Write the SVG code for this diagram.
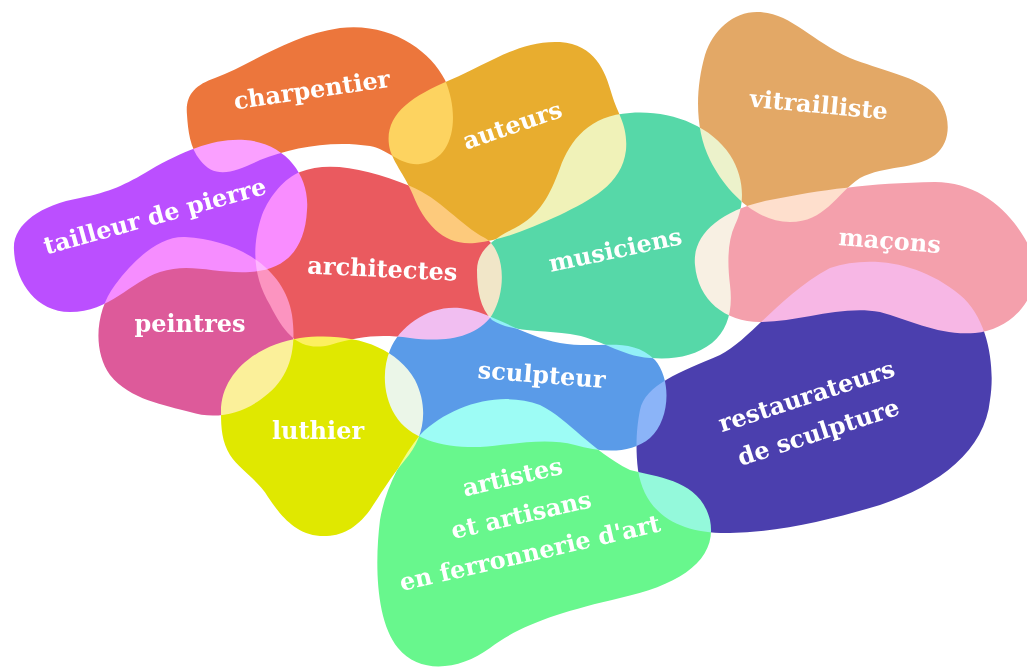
<svg xmlns="http://www.w3.org/2000/svg" width="1027" height="672" viewBox="0 0 1027 672">
<style>
.blobs{isolation:isolate}
.b{mix-blend-mode:screen}
.t{font-family:"DejaVu Serif","Liberation Serif",serif;font-weight:bold;font-size:24px;fill:#fff;text-anchor:middle}
</style>
<rect width="1027" height="672" fill="#fff"/>
<g class="blobs">
<g id="charpentier" class="b"><path fill="#EC763C" d="M187,115 C185,95 195,85 215,78 C250,65 290,35 340,28 C390,22 430,50 445,80 C460,115 455,160 420,164 C400,166 390,150 370,146 C330,140 290,148 260,160 C235,172 215,180 200,160 C190,148 188,130 187,115 Z"/></g>
<g id="auteurs" class="b"><path fill="#E8AD2F" d="M389,145 C385,115 410,97 450,80 C490,63 520,40 560,42 C595,45 605,70 612,95 C618,115 628,125 626,150 C622,185 590,200 560,215 C530,228 505,240 475,243 C445,246 425,225 413,195 C405,175 391,160 389,145 Z"/></g>
<g id="tailleur" class="b"><path fill="#BB4FFF" d="M14,250 C12,225 40,205 80,198 C110,192 125,185 150,170 C185,150 215,138 245,140 C285,143 310,175 307,210 C305,250 285,270 250,272 C215,274 190,262 160,272 C130,282 110,312 70,312 C35,312 15,280 14,250 Z"/></g>
<g id="architectes" class="b"><path fill="#EA5A5F" d="M300,172 C330,160 370,170 410,186 C440,198 460,225 485,238 C505,250 507,290 492,315 C475,340 440,342 410,338 C380,334 360,336 330,345 C300,352 285,335 270,305 C255,280 250,250 262,215 C270,195 285,178 300,172 Z"/></g>
<g id="peintres" class="b"><path fill="#DD5A9A" d="M185,237 C240,240 285,270 292,315 C297,350 290,380 260,400 C240,414 215,420 190,412 C165,405 130,400 110,375 C92,350 96,310 115,285 C135,258 160,236 185,237 Z"/></g>
<g id="luthier" class="b"><path fill="#E0E800" d="M221,413 C220,375 255,345 300,338 C350,332 395,345 415,380 C430,410 423,440 405,460 C390,478 380,495 370,510 C355,530 340,537 320,536 C295,534 280,515 268,497 C258,480 240,470 230,455 C222,442 221,428 221,413 Z"/></g>
<g id="sculpteur" class="b"><path fill="#5A9BE8" d="M390,350 C400,325 430,305 460,308 C490,311 520,335 560,343 C600,350 630,335 655,360 C672,380 670,420 650,438 C630,455 600,452 575,445 C545,437 510,445 480,447 C445,448 410,440 395,415 C383,395 382,370 390,350 Z"/></g>
<g id="artistes" class="b"><path fill="#68F78D" d="M420,435 C450,405 500,390 540,405 C570,420 590,450 630,470 C660,478 700,480 710,520 C718,560 680,585 620,598 C560,612 520,625 490,648 C460,670 420,675 398,648 C375,620 375,560 380,520 C385,490 400,460 420,435 Z"/></g>
<g id="musiciens" class="b"><path fill="#56D8A8" d="M477,270 C477,250 495,238 515,228 C540,215 550,195 560,168 C570,140 590,115 630,113 C670,110 710,125 730,155 C745,178 745,205 735,225 C728,240 727,260 730,285 C733,310 728,330 712,343 C695,356 675,360 650,358 C620,356 600,338 570,334 C540,330 510,332 492,320 C480,308 477,290 477,270 Z"/></g>
<g id="vitrailliste" class="b"><path fill="#E3A866" d="M757,12 C790,12 810,40 850,58 C880,70 910,75 930,90 C950,105 955,140 935,155 C915,170 885,165 860,178 C835,195 825,222 790,222 C755,222 725,190 710,160 C695,130 695,90 705,55 C713,30 733,12 757,12 Z"/></g>
<g id="macons" class="b"><path fill="#F4A0AC" d="M695,265 C692,235 720,210 770,200 C820,190 870,183 935,182 C985,182 1020,220 1035,260 C1040,300 1010,330 975,333 C940,336 910,320 880,312 C840,305 800,322 760,322 C725,322 698,300 695,265 Z"/></g>
<g id="restaurateurs" class="b"><path fill="#4B3FAE" d="M640,410 C645,385 680,372 720,355 C750,340 780,295 830,268 C870,255 920,262 960,295 C990,320 995,370 990,400 C985,450 940,485 880,505 C830,520 780,532 730,533 C680,534 645,515 638,470 C635,445 637,425 640,410 Z"/></g>
</g>
<g id="labels">
<text class="t" transform="translate(313,98) rotate(-8.3)">charpentier</text>
<text class="t" transform="translate(515,133) rotate(-19)">auteurs</text>
<text class="t" transform="translate(157,224) rotate(-15.4)">tailleur de pierre</text>
<text class="t" transform="translate(382,277) rotate(2.7)">architectes</text>
<text class="t" transform="translate(190,332)">peintres</text>
<text class="t" transform="translate(318,439)">luthier</text>
<text class="t" transform="translate(541,383) rotate(4.5)">sculpteur</text>
<text class="t" transform="translate(617,258) rotate(-12)">musiciens</text>
<text class="t" transform="translate(818,113) rotate(5.3)">vitrailliste</text>
<text class="t" transform="translate(889,249) rotate(4.5)">maçons</text>
<text class="t" transform="translate(523,523) rotate(-13)"><tspan x="0" y="-39">artistes</tspan><tspan x="0" y="0">et artisans</tspan><tspan x="0" y="39">en ferronnerie d'art</tspan></text>
<text class="t" transform="translate(815,422) rotate(-18)"><tspan x="0" y="-19">restaurateurs</tspan><tspan x="0" y="19">de sculpture</tspan></text>
</g>
</svg>
